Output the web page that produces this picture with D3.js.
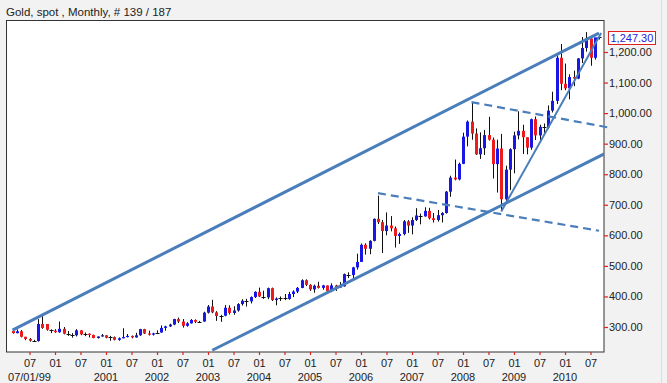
<!DOCTYPE html>
<html><head><meta charset="utf-8">
<script src="https://cdn.jsdelivr.net/npm/d3@7"></script>
<style>
body{margin:0;background:#f2f2f2;}
svg{display:block;font-family:Arial,"Liberation Sans",sans-serif;}
</style>
</head><body>
<svg id="c" width="667" height="383"></svg>
<script>
// ---- data: Gold spot, monthly, Mar 1999 .. Sep 2010 ----
const firstMonth = "1999-03";
const openV = [
 287,280,286,268,261,255,254,310,310,291,
 288,283,294,278,276,273,289,276,278,274,264,269,
 273,265,267,258,263,267,271,266,273,293,279,275,
 279,282,297,302,308,326,318,304,312,323,317,318,
 347,367,348,336,337,363,346,354,375,386,384,398,
 415,400,397,427,388,393,395,392,408,416,428,453,
 438,423,435,428,436,417,436,429,433,473,470,495,
 513,569,556,582,654,643,614,632,623,598,604,646,
 632,650,665,662,680,656,650,666,673,743,789,783,
 834,923,972,933,865,885,928,913,833,884,718,815,
 882,927,942,921,887,980,927,955,953,1008,1040,1181,
 1096,1081,1118,1113,1179,1213,1244,1181,1248];
const highV = [
 294,292,290,268,264,258,326,338,301,292,
 293,318,300,287,280,293,290,282,279,275,269,277,
 273,271,269,266,296,277,272,281,294,294,288,281,
 289,305,304,311,327,331,326,316,326,325,320,350,
 372,389,352,340,372,371,368,378,391,392,400,417,
 429,419,429,429,397,400,408,415,420,431,456,456,
 440,439,448,438,436,443,438,447,475,479,497,540,
 573,574,584,655,730,650,675,663,629,609,650,650,
 659,689,671,692,690,673,683,676,745,795,848,838,
 936,976,1033,950,937,945,988,920,913,932,828,885,
 939,1006,962,920,982,989,962,966,1025,1070,1195,1226,
 1162,1127,1139,1180,1249,1265,1245,1238,1251];
const lowV = [
 278,279,266,257,252,251,252,294,288,280,
 281,281,276,271,265,269,273,270,266,263,262,268,
 263,255,256,255,263,266,263,265,271,277,272,272,
 277,281,288,300,306,313,298,301,311,313,313,317,
 344,345,320,317,335,341,340,350,370,367,377,395,
 398,392,391,385,371,385,388,389,398,411,427,434,
 418,412,426,422,414,414,418,428,432,460,458,488,
 513,537,538,580,637,542,600,613,560,572,600,608,
 603,647,636,661,652,642,645,642,671,726,780,780,
 833,891,913,863,850,863,910,786,740,681,705,748,
 803,914,866,865,880,912,905,931,948,1002,1030,1075,
 1075,1045,1088,1111,1164,1201,1155,1175,1241];
const closeV = [
 280,286,268,261,255,254,310,297,291,288,
 283,294,278,276,273,289,276,278,274,264,269,273,
 265,267,258,263,267,271,266,273,293,279,275,279,
 282,297,302,308,326,318,304,312,323,317,318,347,
 367,348,336,337,363,346,354,375,386,384,398,415,
 400,397,427,388,393,395,392,408,416,428,453,438,
 423,435,428,436,417,436,429,433,473,470,495,513,
 569,556,582,654,643,614,632,623,598,604,646,632,
 650,665,662,680,656,650,666,673,743,789,783,834,
 923,972,933,865,885,928,913,833,884,718,815,882,
 927,942,921,887,980,927,955,953,1008,1040,1181,1096,
 1081,1118,1113,1179,1213,1244,1181,1248,1247.30];

const yTicks = [300,400,500,600,700,800,900,1000,1100,1200];
const xTickIdx = [4,10,16,22,28,34,40,46,52,58,64,70,76,82,88,94,100,106,112,118,124,130,136];
const xTickLabels = ["07","01","07","01","07","01","07","01","07","01","07","01","07","01","07","01","07","01","07","01","07","01","07"];
const yearIdx = [4,22,34,46,58,70,82,94,106,118,130];
const yearLabels = ["07/01/99","2001","2002","2003","2004","2005","2006","2007","2008","2009","2010"];
const titleText = "Gold, spot , Monthly, # 139 / 187";
const lastPrice = 1247.30;

// trend lines: [index, value] endpoints
const channelUpper = [[0,290],[138,1262]];
const channelLower = [[47,224],[140,872]];
const dashA = [[86,738],[138,615]];
const dashB = [[108,1036],[141,951]];
const steepLine = [[115,678],[138.5,1262]];

// ---- layout ----
const L=6.5, T=20.5, R=604, B=352;
const svg = d3.select("#c");
const months = d3.timeMonth.range(new Date(1999,2,1), new Date(2010,9,1));
const data = months.map((m,i)=>({m, i, o:openV[i], h:highV[i], l:lowV[i], c:closeV[i]}));

const x = d3.scaleLinear().domain([0,138]).range([12.5,599]);
const y = d3.scaleLinear().domain([218.2,1304.7]).range([B,20]);

// title
svg.append("text").attr("x",6).attr("y",16).attr("font-size",11.5).attr("fill","#222").text(titleText);

// frame
svg.append("rect").attr("x",L).attr("y",T).attr("width",R-L).attr("height",B-T)
  .attr("fill","#fff").attr("stroke","#333").attr("stroke-width",1);

svg.append("line").attr("x1",661.5).attr("x2",661.5).attr("y1",0).attr("y2",383).attr("stroke","#dcdcdc");

svg.append("clipPath").attr("id","clip").append("rect")
  .attr("x",L).attr("y",T).attr("width",R-L).attr("height",B-T);

// candles
const g = svg.append("g");
data.forEach(d=>{
  const cx = Math.round(x(d.i))+0.5;
  g.append("line").attr("x1",cx).attr("x2",cx).attr("y1",y(d.h)).attr("y2",y(d.l))
    .attr("stroke","#111").attr("stroke-width",1);
  const top = y(Math.max(d.o,d.c)), bot = y(Math.min(d.o,d.c));
  if (bot-top < 1.2) {
    g.append("line").attr("x1",cx-2).attr("x2",cx+2).attr("y1",Math.round((top+bot)/2)+0.5).attr("y2",Math.round((top+bot)/2)+0.5)
      .attr("stroke","#111").attr("stroke-width",1);
  } else {
    g.append("rect").attr("x",cx-1.5).attr("y",top).attr("width",3).attr("height",bot-top)
      .attr("fill", d.c>=d.o ? "#1717e6" : "#ee1b1b");
  }
});

// trend lines
const line = d3.line().x(p=>x(p[0])).y(p=>y(p[1]));
const tl = svg.append("g").attr("fill","none").attr("stroke","#4a7ebb").attr("stroke-linecap","butt");
tl.append("path").attr("d",line(channelUpper)).attr("stroke-width",3).attr("clip-path","url(#clip)");
tl.append("path").attr("d",line(channelLower)).attr("stroke-width",3).attr("clip-path","url(#clip)");
tl.append("path").attr("d",line(steepLine)).attr("stroke-width",2).attr("clip-path","url(#clip)");
tl.append("path").attr("d",line(dashA)).attr("stroke-width",2.2).attr("stroke-dasharray","8,5");
tl.append("path").attr("d",line(dashB)).attr("stroke-width",2.2).attr("stroke-dasharray","8,5");

// y axis
const ya = svg.append("g").attr("transform",`translate(${R},0)`)
  .call(d3.axisRight(y).tickValues(yTicks).tickFormat(d3.format(",.2f")).tickSize(4).tickPadding(1));
ya.select(".domain").remove();
ya.selectAll(".tick line").attr("stroke","#d22").attr("stroke-width",1.2);
ya.selectAll(".tick text").attr("font-size",11).attr("fill","#222").attr("font-family","Arial, 'Liberation Sans', sans-serif");

// x axis
const xa = svg.append("g").attr("transform",`translate(0,${B})`)
  .call(d3.axisBottom(x).tickValues(xTickIdx).tickFormat((d,k)=>xTickLabels[k]).tickSize(3).tickPadding(4));
xa.select(".domain").remove();
xa.selectAll(".tick line").attr("stroke","#d22").attr("stroke-width",1.2);
xa.selectAll(".tick text").attr("font-size",11).attr("fill","#222").attr("font-family","Arial, 'Liberation Sans', sans-serif");

svg.append("g").selectAll("text").data(yearIdx).join("text")
  .attr("x",d=>x(d)).attr("y",381).attr("text-anchor","middle")
  .attr("font-size",11).attr("fill","#222").text((d,k)=>yearLabels[k]);

// last price label
const ly = y(lastPrice);
svg.append("rect").attr("x",608.5).attr("y",Math.round(ly)-6.5).attr("width",47).attr("height",13)
  .attr("fill","#fff").attr("stroke","#e02020").attr("stroke-width",1);
svg.append("text").attr("x",610.5).attr("y",Math.round(ly)+4).attr("font-size",11)
  .attr("fill","#2222dd").text(d3.format(",.2f")(lastPrice));
</script>
</body></html>
